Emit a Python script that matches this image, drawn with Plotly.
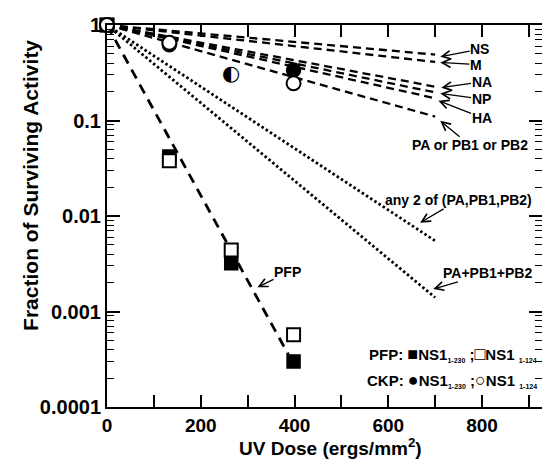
import plotly.graph_objects as go

# ---------------- data ----------------
dose = [0, 133, 265, 398]
pfp_ns1_230 = [1, 0.042, 0.0032, 0.0003]     # filled squares
pfp_ns1_124 = [1, 0.038, 0.0044, 0.00057]    # open squares
ckp_ns1_230 = [1, 0.62, 0.30, 0.337]         # filled circles
ckp_ns1_124 = [1, 0.65, 0.30, 0.245]         # open circles
ckp_overlap_index = 2                         # both CKP markers coincide here (half-filled)

line_dose = [0, 700]
dashed_names = ["NS", "M", "NA", "NP", "HA", "PA or PB1 or PB2"]
dashed_end = [0.49, 0.41, 0.226, 0.197, 0.171, 0.110]
dotted_names = ["any 2 of (PA,PB1,PB2)", "PA+PB1+PB2"]
dotted_end = [0.0055, 0.0014]
pfp_line_dose = [0, 395]
pfp_line_val = [1, 0.0003]

x_ticks = [0, 200, 400, 600, 800]
y_ticks = [0.0001, 0.001, 0.01, 0.1, 1]
y_tick_text = ["0.0001", "0.001", "0.01", "0.1", "1"]

FONT = "Liberation Sans, Arial, sans-serif"
BOLD = "bold"

fig = go.Figure()

for name, end in zip(dashed_names, dashed_end):
    fig.add_trace(go.Scatter(x=line_dose, y=[1, end], mode="lines", name=name,
                             line=dict(color="black", width=2.3, dash="8px,5px"),
                             showlegend=False, cliponaxis=False))
for name, end in zip(dotted_names, dotted_end):
    fig.add_trace(go.Scatter(x=line_dose, y=[1, end], mode="lines", name=name,
                             line=dict(color="black", width=2.8, dash="2.5px,2.5px"),
                             showlegend=False, cliponaxis=False))
fig.add_trace(go.Scatter(x=pfp_line_dose, y=pfp_line_val, mode="lines", name="PFP",
                         line=dict(color="black", width=2.8, dash="10px,7px"),
                         showlegend=False, cliponaxis=False))

fig.add_trace(go.Scatter(x=dose, y=pfp_ns1_230, mode="markers", showlegend=False,
                         marker=dict(symbol="square", size=13, color="black",
                                     line=dict(color="black", width=1.5)),
                         cliponaxis=False))
fig.add_trace(go.Scatter(x=dose, y=pfp_ns1_124, mode="markers", showlegend=False,
                         marker=dict(symbol="square", size=13, color="white",
                                     line=dict(color="black", width=2)),
                         cliponaxis=False))

keep = [i for i in range(len(dose)) if i != ckp_overlap_index]
fig.add_trace(go.Scatter(x=[dose[i] for i in keep], y=[ckp_ns1_230[i] for i in keep],
                         mode="markers", showlegend=False,
                         marker=dict(symbol="circle", size=14, color="black",
                                     line=dict(color="black", width=1.5)),
                         cliponaxis=False))
fig.add_trace(go.Scatter(x=[dose[i] for i in keep], y=[ckp_ns1_124[i] for i in keep],
                         mode="markers", showlegend=False,
                         marker=dict(symbol="circle", size=14, color="white",
                                     line=dict(color="black", width=2)),
                         cliponaxis=False))
# overlapping CKP point drawn as a half-filled circle
fig.add_trace(go.Scatter(x=[dose[ckp_overlap_index]], y=[ckp_ns1_230[ckp_overlap_index]],
                         mode="text", text=["◐"], textposition="middle center",
                         textfont=dict(family="DejaVu Sans", size=21, color="black"),
                         showlegend=False, cliponaxis=False))

# ---------------- labels with arrows ----------------
# (text, text centre x, text centre y (log10), arrow head x, arrow head y (log10))
labels = [
    ("NS", 795, -0.253, 711, -0.333),
    ("M", 787, -0.414, 711, -0.393),
    ("NA", 799, -0.594, 713, -0.656),
    ("NP", 798, -0.774, 711, -0.716),
    ("HA", 799, -0.969, 707, -0.792),
    ("PA or PB1 or PB2", 774, -1.260, 711, -1.003),
    ("any 2 of (PA,PB1,PB2)", 749, -1.836, 668, -2.070),
    ("PA+PB1+PB2", 812, -2.601, 696, -2.764),
    ("PFP", 385, -2.591, 321, -2.747),
]
for text, tx, ty, hx, hy in labels:
    fig.add_annotation(x=hx, y=hy, ax=tx, ay=ty, axref="x", ayref="y", text=text,
                       showarrow=True, arrowhead=5, arrowsize=1.3, arrowwidth=1.3,
                       arrowcolor="black", standoff=0, borderpad=0,
                       font=dict(family=FONT, size=14, color="black", weight=BOLD))

# legend block
def sub(s):
    return "<sub><span style='font-size:7px'>" + s + "</span></sub>"

def sym(s):
    return "<span style='font-size:18px'>" + s + "</span>"

fig.add_annotation(xref="paper", yref="paper", x=0.993, y=0.140, xanchor="right",
                   yanchor="middle", showarrow=False,
                   text="PFP: " + sym("■") + "NS1" + sub("1-230") + " ;" + sym("□") + "NS1 " + sub("1-124"),
                   font=dict(family=FONT, size=15, color="black", weight=BOLD))
fig.add_annotation(xref="paper", yref="paper", x=0.993, y=0.070, xanchor="right",
                   yanchor="middle", showarrow=False,
                   text="CKP: " + sym("●") + "NS1" + sub("1-230") + " ;" + sym("○") + "NS1 " + sub("1-124"),
                   font=dict(family=FONT, size=15, color="black", weight=BOLD))

# axis titles
fig.add_annotation(xref="paper", yref="paper", x=-0.176, y=0.58, xanchor="center",
                   yanchor="middle", textangle=-90, showarrow=False,
                   text="Fraction of Surviving Activity",
                   font=dict(family=FONT, size=21, color="black", weight=BOLD))
fig.add_annotation(xref="paper", yref="paper", x=0.513, y=-0.106, xanchor="center",
                   yanchor="middle", showarrow=False,
                   text="UV Dose (ergs/mm<sup>2</sup>)",
                   font=dict(family=FONT, size=19, color="black", weight=BOLD))

fig.update_xaxes(range=[0, 928], tickvals=x_ticks, ticks="inside", ticklen=12,
                 tickwidth=1.6, tickcolor="black", showline=True, linewidth=2,
                 linecolor="black", mirror="ticks", showgrid=False, zeroline=False,
                 tickfont=dict(family=FONT, size=19, color="black", weight=BOLD),
                 minor=dict(dtick=100, ticks="inside", ticklen=12, tickwidth=1.6,
                            tickcolor="black", showgrid=False))
fig.update_yaxes(type="log", range=[-4, 0], tickvals=y_ticks, ticktext=y_tick_text,
                 ticks="inside", ticklen=13, tickwidth=1.6, tickcolor="black",
                 showline=True, linewidth=2, linecolor="black", mirror="ticks",
                 showgrid=False, zeroline=False,
                 tickfont=dict(family=FONT, size=20, color="black", weight=BOLD),
                 minor=dict(dtick="D1", ticks="inside", ticklen=7, tickwidth=1.4,
                            tickcolor="black", showgrid=False))

# the page body adds an 8px offset, so the figure is 8px smaller and shifted
fig.update_layout(width=542, height=453, margin=dict(l=99, r=6, t=15, b=54),
                  paper_bgcolor="white", plot_bgcolor="white", showlegend=False)

fig.write_html("out.html")
